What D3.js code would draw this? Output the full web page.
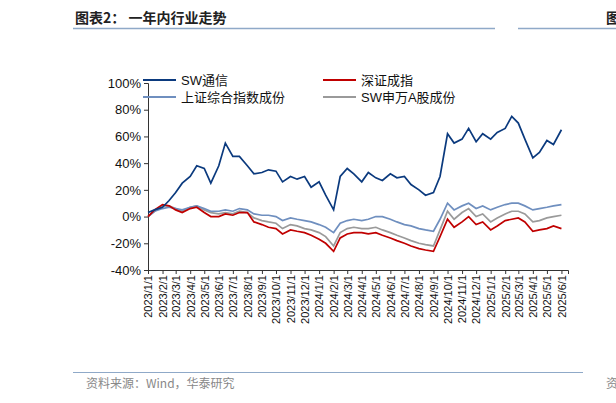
<!DOCTYPE html><html><head><meta charset="utf-8">
<script src="https://cdn.jsdelivr.net/npm/d3@7"></script>
<style>body{margin:0;background:#fff}svg{font-family:"Liberation Sans",Arial,sans-serif}</style></head><body>
<svg id="c" width="616" height="403"></svg>
<script>
const seriesNames=["SW通信","深证成指","上证综合指数成份","SW申万A股成份"];
const colors=["#0b3a7e","#c00000","#6f8fbf","#9a9a9a"];
const blue=[3,5,7,12,18,25,30,38,36,25,38,55,45,45,38,32,33,35,34,26,30,28,30,22,26,16,5,30,36,32,26,33,29,27,32,29,30,24,20,16,18,30,62,55,58,66,56,62,58,63,66,75,70,58,44,48,57,54,65];
const red=[0,5,9,8,5,3,6,7,3,0,0,2,1,3,3,-4,-6,-8,-9,-13,-10,-11,-12,-14,-17,-20,-26,-16,-13,-12,-12,-13,-12,-14,-16,-18,-20,-22,-24,-25,-26,-15,-2,-8,-4,0,-6,-4,-10,-7,-3,-2,-1,-4,-11,-10,-9,-7,-9];
const grey=[0,4,8,8,6,4,7,8,5,3,2,3,2,4,3,-1,-3,-4,-5,-9,-6,-7,-9,-10,-12,-15,-22,-12,-9,-8,-9,-9,-8,-10,-12,-14,-16,-18,-20,-21,-22,-10,4,-2,3,6,0,2,-4,-1,2,4,4,2,-4,-3,-1,0,1];
const lblue=[0,4,6,7,6,5,7,8,6,4,4,5,4,6,5,2,1,1,0,-3,-1,-2,-3,-4,-6,-8,-12,-5,-3,-2,-3,-2,0,0,-2,-4,-6,-7,-9,-10,-11,-2,10,5,8,10,6,8,5,7,9,10,10,8,5,6,7,8,9];
const dates=blue.map((_,i)=>new Date(2023,Math.floor(i/2),i%2?15:1));
const tickLabels=d3.range(30).map(i=>`${2023+Math.floor(i/12)}/${i%12+1}/1`);
const yTicks=[-40,-20,0,20,40,60,80,100];

const svg=d3.select("#c");
svg.append("text").attr("x",75).attr("y",23).attr("font-size",14).attr("font-weight","bold").attr("font-family","Noto Sans CJK SC").attr("fill","#222").text("图表2：  一年内行业走势");
svg.append("line").attr("x1",73).attr("x2",495).attr("y1",28.5).attr("y2",28.5).attr("stroke","#8fa9c8").attr("stroke-width",1.5);
svg.append("line").attr("x1",518).attr("x2",616).attr("y1",28.5).attr("y2",28.5).attr("stroke","#8fa9c8").attr("stroke-width",1.5);
svg.append("text").attr("x",606).attr("y",23).attr("font-size",14).attr("font-weight","bold").attr("font-family","Noto Sans CJK SC").attr("fill","#222").text("图");
svg.append("line").attr("x1",73).attr("x2",583).attr("y1",372.5).attr("y2",372.5).attr("stroke","#8fa9c8").attr("stroke-width",1);
svg.append("text").attr("x",86).attr("y",388).attr("font-size",12).attr("font-family","Noto Sans CJK SC").attr("fill","#888").text("资料来源：Wind，华泰研究");
svg.append("text").attr("x",606).attr("y",388).attr("font-size",12).attr("font-family","Noto Sans CJK SC").attr("fill","#888").text("资");

const x=d3.scaleTime().domain([new Date(2023,0,1),new Date(2025,5,15)]).range([148,568]);
const y=d3.scaleLinear().domain([-40,100]).range([270,83]);
const yAx=svg.append("g").attr("transform","translate(148,0)").call(d3.axisLeft(y).tickValues(yTicks).tickFormat(d=>d+"%").tickSize(4));
yAx.selectAll("text").attr("font-size",13).attr("fill","#111");
yAx.selectAll("line,path").attr("stroke","#333");
const xAx=svg.append("g").attr("transform","translate(0,270)").call(d3.axisBottom(x).tickValues(tickLabels.map(t=>{const p=t.split("/");return new Date(+p[0],p[1]-1,1)})).tickFormat((d,i)=>tickLabels[i]).tickSize(4));
xAx.selectAll("line,path").attr("stroke","#333");
xAx.selectAll("text").attr("font-size",11).attr("fill","#111").attr("transform","rotate(-90)").attr("text-anchor","end").attr("x",-5).attr("y",0).attr("dy","0.35em");
const data=[blue,red,lblue,grey];
const line=d3.line().x((d,i)=>x(dates[i])).y(d=>y(d));
[3,2,1,0].forEach(k=>svg.append("path").attr("d",line(data[k])).attr("fill","none").attr("stroke",colors[k]).attr("stroke-width",1.7));
const leg=[[0,143,80],[1,323,80],[2,143,97],[3,323,97]];
leg.forEach(([k,lx,ly])=>{svg.append("line").attr("x1",lx).attr("x2",lx+33).attr("y1",ly).attr("y2",ly).attr("stroke",colors[k]).attr("stroke-width",2);
svg.append("text").attr("x",lx+38).attr("y",ly+5).attr("font-size",13).attr("font-family","Liberation Sans, Noto Sans CJK SC").attr("fill","#111").text(seriesNames[k]);});
</script></body></html>
